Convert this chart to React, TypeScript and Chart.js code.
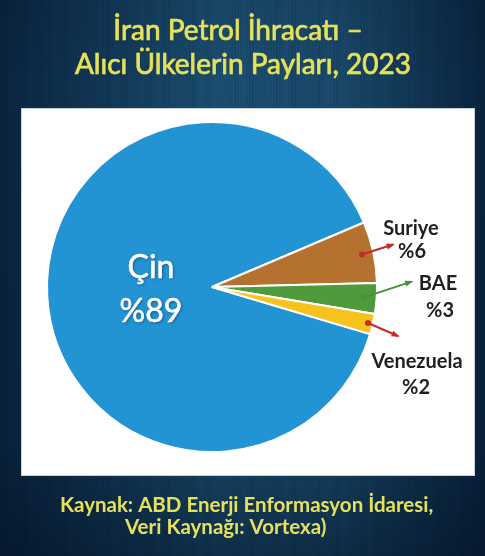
import React, { useEffect, useRef } from "react";
import { Chart, registerables } from "chart.js";

Chart.register(...registerables);

// ---- data ----
const categories = ["Çin", "Suriye", "BAE", "Venezuela"];
const shares = [89, 6, 3, 2];
const percentLabels = ["%89", "%6", "%3", "%2"];
const sliceColors = ["#2394d3", "#b5712f", "#4f9b3c", "#f6c21c"];
const arrowColors = ["", "#c42a2a", "#4a8f3a", "#c42a2a"];
const titleLines = ["İran Petrol İhracatı –", "Alıcı Ülkelerin Payları, 2023"];
const sourceLines = ["Kaynak: ABD Enerji Enformasyon İdaresi,", "Veri Kaynağı: Vortexa)"];

// annotation layout (relative to pie centre)
const arrowStartRadius = [0, 0.93, 0.92, 0.97];
const arrowOffsets = [[0, 0], [31, -10], [48, -16], [30, 13]];
const nameOffsets = [[-61, -19], [199, -58], [226, -3], [205, 75]];
const pctOffsets = [[-61, 25], [200, -35], [228, 24], [204, 101]];

const W = 485;
const H = 556;

export default function App() {
  const ref = useRef<HTMLCanvasElement>(null);

  useEffect(() => {
    document.body.style.margin = "0";
    const canvas = ref.current!;

    const bgPlugin = {
      id: "bgPanel",
      beforeDraw(chart: any) {
        const ctx = chart.ctx as CanvasRenderingContext2D;
        ctx.save();
        const g = ctx.createLinearGradient(0, 0, W, 0);
        g.addColorStop(0, "#0a2540");
        g.addColorStop(0.45, "#1c4f72");
        g.addColorStop(0.7, "#1a4a6c");
        g.addColorStop(1, "#0a2540");
        ctx.fillStyle = g;
        ctx.fillRect(0, 0, W, H);
        for (let x = 0; x < W; x += 3) {
          const a = 0.07 * (1 + Math.sin(x * 0.37) * Math.sin(x * 0.071));
          ctx.fillStyle = `rgba(0,12,30,${a.toFixed(3)})`;
          ctx.fillRect(x, 0, 2, H);
        }
        const v = ctx.createLinearGradient(0, 0, 0, H);
        v.addColorStop(0, "rgba(0,10,25,0.1)");
        v.addColorStop(0.15, "rgba(0,10,25,0)");
        v.addColorStop(0.8, "rgba(0,10,25,0.15)");
        v.addColorStop(1, "rgba(0,10,25,0.45)");
        ctx.fillStyle = v;
        ctx.fillRect(0, 0, W, H);
        // white panel
        ctx.fillStyle = "#ffffff";
        ctx.fillRect(21, 108, 454, 368);
        ctx.strokeStyle = "#c9d3dc";
        ctx.lineWidth = 1;
        ctx.strokeRect(21.5, 108.5, 453, 367);
        // title
        ctx.fillStyle = "#e6e15a";
        ctx.strokeStyle = "#e6e15a";
        ctx.lineWidth = 0.7;
        ctx.textAlign = "center";
        ctx.textBaseline = "alphabetic";
        ctx.font = "28px Lato";
        ctx.fillText(titleLines[0], 238, 40);
        ctx.strokeText(titleLines[0], 238, 40);
        ctx.fillText(titleLines[1], 243, 74);
        ctx.strokeText(titleLines[1], 243, 74);
        // source
        ctx.font = "bold 20.5px Lato";
        ctx.textAlign = "left";
        ctx.fillText(sourceLines[0], 60, 512);
        ctx.fillText(sourceLines[1], 125, 534);
        ctx.restore();
      },
    };

    const labelPlugin = {
      id: "sliceLabels",
      afterDatasetsDraw(chart: any) {
        const ctx = chart.ctx as CanvasRenderingContext2D;
        const meta = chart.getDatasetMeta(0);
        ctx.save();
        meta.data.forEach((arc: any, i: number) => {
          const cx = arc.x;
          const cy = arc.y;
          const r = arc.outerRadius;
          const mid = (arc.startAngle + arc.endAngle) / 2;
          if (i === 0) {
            ctx.font = "32px Lato";
            ctx.textAlign = "center";
            ctx.textBaseline = "middle";
            ctx.shadowColor = "rgba(0,30,60,0.55)";
            ctx.shadowBlur = 3;
            ctx.shadowOffsetX = 1;
            ctx.shadowOffsetY = 1;
            ctx.fillStyle = "#ffffff";
            ctx.strokeStyle = "#ffffff";
            ctx.lineWidth = 0.6;
            ctx.fillText(categories[i], cx + nameOffsets[i][0], cy + nameOffsets[i][1]);
            ctx.fillText(percentLabels[i], cx + pctOffsets[i][0], cy + pctOffsets[i][1]);
            ctx.shadowColor = "transparent";
            ctx.shadowBlur = 0;
            ctx.shadowOffsetX = 0;
            ctx.shadowOffsetY = 0;
            ctx.strokeText(categories[i], cx + nameOffsets[i][0], cy + nameOffsets[i][1]);
            ctx.strokeText(percentLabels[i], cx + pctOffsets[i][0], cy + pctOffsets[i][1]);
            return;
          }
          const sx = cx + Math.cos(mid) * r * arrowStartRadius[i];
          const sy = cy + Math.sin(mid) * r * arrowStartRadius[i];
          const ex = sx + arrowOffsets[i][0];
          const ey = sy + arrowOffsets[i][1];
          const col = arrowColors[i];
          ctx.strokeStyle = col;
          ctx.fillStyle = col;
          ctx.lineWidth = 2;
          ctx.beginPath();
          ctx.moveTo(sx, sy);
          ctx.lineTo(ex, ey);
          ctx.stroke();
          ctx.beginPath();
          ctx.arc(sx, sy, 3, 0, Math.PI * 2);
          ctx.fill();
          const ang = Math.atan2(ey - sy, ex - sx);
          const hl = 7;
          ctx.beginPath();
          ctx.moveTo(ex + Math.cos(ang) * 2, ey + Math.sin(ang) * 2);
          ctx.lineTo(ex - Math.cos(ang - 0.45) * hl, ey - Math.sin(ang - 0.45) * hl);
          ctx.lineTo(ex - Math.cos(ang + 0.45) * hl, ey - Math.sin(ang + 0.45) * hl);
          ctx.closePath();
          ctx.fill();

          ctx.fillStyle = "#1f1f1f";
          ctx.font = "bold 20px Lato";
          ctx.textAlign = "center";
          ctx.textBaseline = "middle";
          ctx.fillText(categories[i], cx + nameOffsets[i][0], cy + nameOffsets[i][1]);
          ctx.fillText(percentLabels[i], cx + pctOffsets[i][0], cy + pctOffsets[i][1]);
        });
        ctx.restore();
      },
    };

    const chart = new Chart(canvas, {
      type: "pie",
      data: {
        labels: categories,
        datasets: [
          {
            data: shares,
            backgroundColor: sliceColors,
            borderColor: "#ffffff",
            borderWidth: 2,
          },
        ],
      },
      options: {
        responsive: false,
        animation: false,
        devicePixelRatio: 1,
        rotation: 106.6,
        layout: { padding: { left: 46, right: 107, top: 121, bottom: 103 } },
        plugins: {
          legend: { display: false },
          tooltip: { enabled: false },
          title: { display: false },
        },
      },
      plugins: [bgPlugin, labelPlugin],
    });
    return () => chart.destroy();
  }, []);

  return <canvas ref={ref} width={W} height={H} style={{ display: "block" }} />;
}
